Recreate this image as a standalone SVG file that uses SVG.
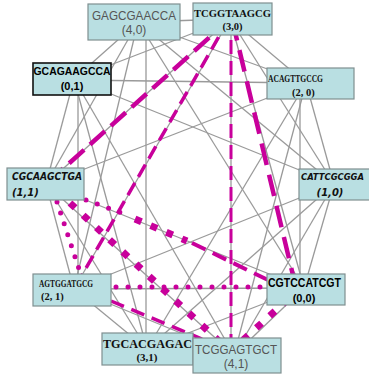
<svg xmlns="http://www.w3.org/2000/svg" width="369" height="377" viewBox="0 0 369 377">
<style>
.g{stroke:#9a9a9a;stroke-width:1.3;fill:none}
.m{stroke:#c8009b;fill:none}
.box{fill:#b9dfe2;stroke:#7f8f90;stroke-width:1.2}
.sans{font-family:"Liberation Sans",Arial,sans-serif}
.serif{font-family:"Liberation Serif","Times New Roman",serif;font-weight:bold;fill:#111}
.comic{font-family:"DejaVu Sans",sans-serif;font-weight:bold;font-style:italic;fill:#111}
</style>
<rect width="369" height="377" fill="#ffffff"/>
<g id="connectors">
<g class="g">
<line x1="138" y1="22" x2="230" y2="19"/>
<line x1="138" y1="22" x2="74" y2="79"/>
<line x1="138" y1="22" x2="306" y2="83"/>
<line x1="138" y1="22" x2="46" y2="184"/>
<line x1="138" y1="22" x2="334" y2="184"/>
<line x1="138" y1="22" x2="74" y2="289"/>
<line x1="146" y1="22" x2="146" y2="349"/>
<line x1="138" y1="22" x2="304" y2="288"/>
<line x1="230" y1="19" x2="74" y2="79"/>
<line x1="230" y1="19" x2="306" y2="83"/>
<line x1="230" y1="19" x2="46" y2="184"/>
<line x1="230" y1="19" x2="334" y2="184"/>
<line x1="230" y1="19" x2="74" y2="289"/>
<line x1="231" y1="19" x2="231" y2="355"/>
<line x1="230" y1="19" x2="304" y2="288"/>
<line x1="74" y1="80" x2="306" y2="83"/>
<line x1="74" y1="79" x2="46" y2="184"/>
<line x1="74" y1="79" x2="334" y2="184"/>
<line x1="78" y1="79" x2="78" y2="289"/>
<line x1="74" y1="79" x2="147" y2="349"/>
<line x1="74" y1="79" x2="234" y2="355"/>
<line x1="306" y1="83" x2="46" y2="184"/>
<line x1="306" y1="83" x2="334" y2="184"/>
<line x1="306" y1="83" x2="147" y2="349"/>
<line x1="306" y1="83" x2="234" y2="355"/>
<line x1="300" y1="83" x2="300" y2="288"/>
<line x1="46" y1="184" x2="74" y2="289"/>
<line x1="46" y1="184" x2="147" y2="349"/>
<line x1="46" y1="184" x2="234" y2="355"/>
<line x1="46" y1="184" x2="304" y2="288"/>
<line x1="334" y1="184" x2="74" y2="289"/>
<line x1="334" y1="184" x2="147" y2="349"/>
<line x1="334" y1="184" x2="234" y2="355"/>
<line x1="334" y1="184" x2="304" y2="288"/>
<line x1="74" y1="289" x2="147" y2="349"/>
<line x1="74" y1="289" x2="234" y2="355"/>
<line x1="74" y1="289" x2="304" y2="288"/>
<line x1="147" y1="352" x2="234" y2="355"/>
<line x1="147" y1="349" x2="304" y2="288"/>
<line x1="234" y1="355" x2="304" y2="288"/>
</g>
<g class="m">
<line x1="230" y1="19" x2="46" y2="184" stroke-width="4.5" stroke-dasharray="20 8"/>
<line x1="229" y1="19" x2="74" y2="289" stroke-width="3.5" stroke-dasharray="14 7"/>
<line x1="231" y1="19" x2="231" y2="340" stroke-width="3" stroke-dasharray="14 7"/>
<line x1="232" y1="19" x2="296" y2="288" stroke-width="4.5" stroke-dasharray="22 10"/>
<line x1="70" y1="203" x2="220" y2="342" stroke-width="7" stroke-dasharray="7 11"/>
<line x1="86" y1="200" x2="130" y2="216" stroke-width="5" stroke-linecap="round" stroke-dasharray="0 12"/>
<line x1="135" y1="219" x2="187" y2="241" stroke-width="7" stroke-dasharray="7 10"/>
<line x1="192" y1="243" x2="270" y2="281" stroke-width="4" stroke-dasharray="15 8"/>
<line x1="57" y1="202" x2="80" y2="272" stroke-width="5" stroke-linecap="round" stroke-dasharray="0 11.5"/>
<line x1="116" y1="287" x2="266" y2="287" stroke-width="5" stroke-linecap="round" stroke-dasharray="0 12"/>
<line x1="111" y1="301" x2="202" y2="339" stroke-width="3.5" stroke-dasharray="14 8"/>
<line x1="243" y1="340" x2="284" y2="303" stroke-width="7" stroke-dasharray="7 11"/>
</g>
</g>
<g id="n1"><rect class="box" x="88" y="4" width="92" height="36"/>
<text class="sans" x="134" y="20" font-size="13" fill="#555" text-anchor="middle" textLength="84" lengthAdjust="spacingAndGlyphs">GAGCGAACCA</text>
<text class="sans" x="134" y="34" font-size="12" fill="#555" text-anchor="middle">(4,0)</text></g>
<g id="n2"><rect class="box" x="193" y="3" width="79" height="32"/>
<text class="serif" x="232.5" y="17" font-size="11" text-anchor="middle" textLength="77" lengthAdjust="spacingAndGlyphs">TCGGTAAGCG</text>
<text class="serif" x="232.5" y="30" font-size="10.5" text-anchor="middle">(3,0)</text></g>
<g id="n3"><rect x="33" y="63" width="78" height="32" fill="#b9dfe2" stroke="#111" stroke-width="1.6"/>
<text class="sans" x="72" y="75" font-size="11" font-weight="bold" fill="#000" text-anchor="middle" textLength="77" lengthAdjust="spacingAndGlyphs">GCAGAAGCCA</text>
<text class="sans" x="72" y="90" font-size="11" font-weight="bold" fill="#000" text-anchor="middle">(0,1)</text></g>
<g id="n4"><rect class="box" x="267" y="68" width="87" height="31"/>
<text class="serif" x="268" y="82" font-size="10.5" textLength="55" lengthAdjust="spacingAndGlyphs">ACAGTTGCCG</text>
<text class="serif" x="292" y="96" font-size="10.5">(2, 0)</text></g>
<g id="n5"><rect class="box" x="7" y="168" width="77" height="32"/>
<text class="comic" x="12" y="180" font-size="10" textLength="70" lengthAdjust="spacingAndGlyphs">CGCAAGCTGA</text>
<text class="comic" x="12" y="196" font-size="10" font-style="normal">(1,1)</text></g>
<g id="n6"><rect class="box" x="299" y="169" width="72" height="31"/>
<text class="comic" x="301" y="180" font-size="9" textLength="63" lengthAdjust="spacingAndGlyphs">CATTCGCGGA</text>
<text class="comic" x="330" y="196" font-size="10" font-style="normal" text-anchor="middle">(1,0)</text></g>
<g id="n7"><rect class="box" x="33" y="274" width="78" height="32"/>
<text class="serif" x="39" y="287" font-size="10.5" textLength="54" lengthAdjust="spacingAndGlyphs">AGTGGATGCG</text>
<text class="serif" x="41" y="300" font-size="10.5">(2, 1)</text></g>
<g id="n8"><rect class="box" x="102" y="333" width="91" height="32"/>
<text class="serif" x="103" y="348" font-size="12" textLength="89" lengthAdjust="spacingAndGlyphs">TGCACGAGAC</text>
<text class="serif" x="147" y="361" font-size="11" text-anchor="middle">(3,1)</text></g>
<g id="n9"><rect class="box" x="193" y="338" width="88" height="35"/>
<text class="sans" x="236" y="354" font-size="13" fill="#555" text-anchor="middle" textLength="82" lengthAdjust="spacingAndGlyphs">TCGGAGTGCT</text>
<text class="sans" x="236" y="368" font-size="12" fill="#555" text-anchor="middle">(4,1)</text></g>
<g id="n10"><rect class="box" x="267" y="274" width="78" height="31"/>
<text class="sans" x="268" y="287" font-size="12" font-weight="bold" fill="#000" textLength="73" lengthAdjust="spacingAndGlyphs">CGTCCATCGT</text>
<text class="sans" x="304" y="302" font-size="11" font-weight="bold" fill="#000" text-anchor="middle">(0,0)</text></g>
</svg>
